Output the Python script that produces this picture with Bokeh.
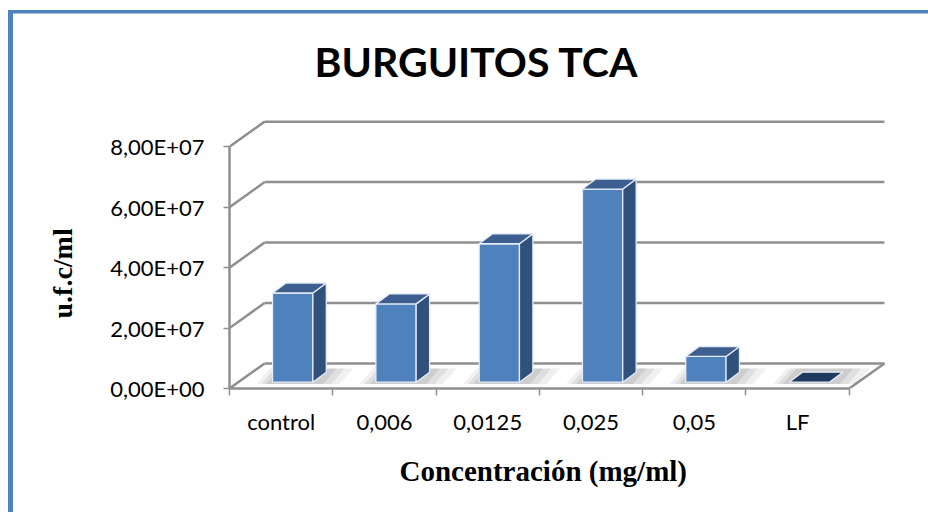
from bokeh.plotting import figure
from bokeh.models import Range1d, FixedTicker, ColumnDataSource, Title
from bokeh.embed import file_html
from bokeh.resources import INLINE

# ---- data ----
title_text = "BURGUITOS TCA"
categories = ["control", "0,006", "0,0125", "0,025", "0,05", "LF"]
values = [2.95e7, 2.59e7, 4.58e7, 6.39e7, 0.85e7, 0.0]
y_ticks = [0, 20000000, 40000000, 60000000, 80000000]
y_tick_labels = ["0,00E+00", "2,00E+07", "4,00E+07", "6,00E+07", "8,00E+07"]
x_label = "Concentración (mg/ml)"
y_label = "u.f.c/ml"

# ---- 3D styling (depth offsets in data units) ----
N = len(categories)
DX, DY = 0.34, 0.83e7          # wall depth
BAR_W = 0.39
BAR_OX, BAR_OY = 0.112, 0.21e7  # bar front face position inside the floor
BAR_DX, BAR_DY = 0.13, 0.33e7   # bar depth
GRID = "#8F8F8F"
BLUE = "#4F81BD"

p = figure(width=928, height=512,
           x_range=Range1d(0, 6.37), y_range=Range1d(0, 9.0e7),
           output_backend="svg", toolbar_location=None,
           min_border_left=229, min_border_right=41,
           min_border_top=116, min_border_bottom=124,
           title=title_text)
p.outline_line_color = None
p.xgrid.visible = False
p.ygrid.visible = False
p.background_fill_color = "white"
p.border_fill_color = None
# blue chart-area frame (left and top edges) painted behind the canvas
p.styles = {
    "background-color": "white",
    "background-image": f"linear-gradient({BLUE}, {BLUE}), linear-gradient({BLUE}, {BLUE})",
    "background-size": "5px 502px, 920px 3.5px",
    "background-position": "8px 10px, 8px 10px",
    "background-repeat": "no-repeat",
}

# title
p.title.text_font = "Lato"
p.title.text_font_style = "bold"
p.title.text_font_size = "41px"
p.title.text_color = "black"
p.title.align = "left"
p.title.offset = 85
p.title.standoff = 61

# back wall gridlines and left wall diagonals
gx = [[DX, N + DX] for v in y_ticks]
gy = [[v + DY, v + DY] for v in y_ticks]
p.multi_line(gx, gy, line_color=GRID, line_width=2.5)
dxs = [[0, DX] for v in y_ticks]
dys = [[v, v + DY] for v in y_ticks]
p.multi_line(dxs, dys, line_color=GRID, line_width=2.5)
# floor right edge
p.line([N, N + DX], [0, DY], line_color=GRID, line_width=2.5)

# bar geometry
L = [i + 0.5 - BAR_W / 2 + BAR_OX for i in range(N)]
R = [l + BAR_W for l in L]
B = [BAR_OY] * N
T = [v + BAR_OY for v in values]

# soft shadows on the floor
for e, a in [(0.26, 0.10), (0.18, 0.12), (0.10, 0.15)]:
    sx = [[l - e * 0.6, r + e, r + BAR_DX + e, l + BAR_DX - e * 0.6] for l, r in zip(L, R)]
    sy = [[b - 0.06e7, b - 0.06e7, b + BAR_DY + 0.12e7, b + BAR_DY + 0.12e7] for b in B]
    p.patches(sx, sy, fill_color="#6e6e6e", fill_alpha=a, line_color=None)

EDGE = "#E4ECF6"
front = ColumnDataSource(dict(left=L, right=R, bottom=B, top=T))
p.quad(left="left", right="right", bottom="bottom", top="top", source=front,
       fill_color=BLUE, line_color=EDGE, line_width=1.3)

side_x = [[r, r + BAR_DX, r + BAR_DX, r] for r in R]
side_y = [[b, b + BAR_DY, t + BAR_DY, t] for b, t in zip(B, T)]
p.patches(side_x, side_y, fill_color="#30517C", line_color=EDGE, line_width=1.3)

top_x = [[l, l + BAR_DX, r + BAR_DX, r] for l, r in zip(L, R)]
top_y = [[t, t + BAR_DY, t + BAR_DY, t] for t in T]
top_colors = ["#1F3A5F" if v == 0 else "#3C5F8F" for v in values]
p.patches(top_x, top_y, fill_color=top_colors, line_color=EDGE, line_width=1.3)

# x axis (front floor edge)
xa = p.xaxis[0]
xa.ticker = FixedTicker(ticks=[i + 0.5 for i in range(N)], minor_ticks=list(range(N + 1)))
xa.major_label_overrides = {i + 0.5: c for i, c in enumerate(categories)}
xa.bounds = (0, N)
xa.axis_line_color = GRID
xa.axis_line_width = 2.5
xa.major_tick_in = 0
xa.major_tick_out = 0
xa.major_tick_line_color = None
xa.minor_tick_in = 0
xa.minor_tick_out = 7
xa.minor_tick_line_color = GRID
xa.minor_tick_line_width = 1.5
xa.major_label_standoff = 12
xa.major_label_text_font = "Lato"
xa.major_label_text_font_size = "22px"
xa.major_label_text_color = "black"

# y axis (front left edge)
ya = p.yaxis[0]
ya.ticker = FixedTicker(ticks=y_ticks, minor_ticks=[])
ya.major_label_overrides = {t: s for t, s in zip(y_ticks, y_tick_labels)}
ya.bounds = (0, 8e7)
ya.axis_line_color = GRID
ya.axis_line_width = 2.5
ya.major_tick_in = 0
ya.major_tick_out = 6
ya.major_tick_line_color = GRID
ya.major_tick_line_width = 1.5
ya.major_label_standoff = 19
ya.major_label_text_font = "Lato"
ya.major_label_text_font_size = "22px"
ya.major_label_text_color = "black"

# axis titles
ylab = Title(text=y_label, align="left", offset=70, vertical_align="bottom", standoff=60,
             text_font="Liberation Serif", text_font_style="bold",
             text_font_size="28px", text_color="black")
p.add_layout(ylab, "left")
xlab = Title(text=x_label, align="left", offset=170, vertical_align="bottom", standoff=30,
             text_font="Liberation Serif", text_font_style="bold",
             text_font_size="29px", text_color="black")
p.add_layout(xlab, "below")

open("out.html", "w").write(file_html(p, INLINE))
